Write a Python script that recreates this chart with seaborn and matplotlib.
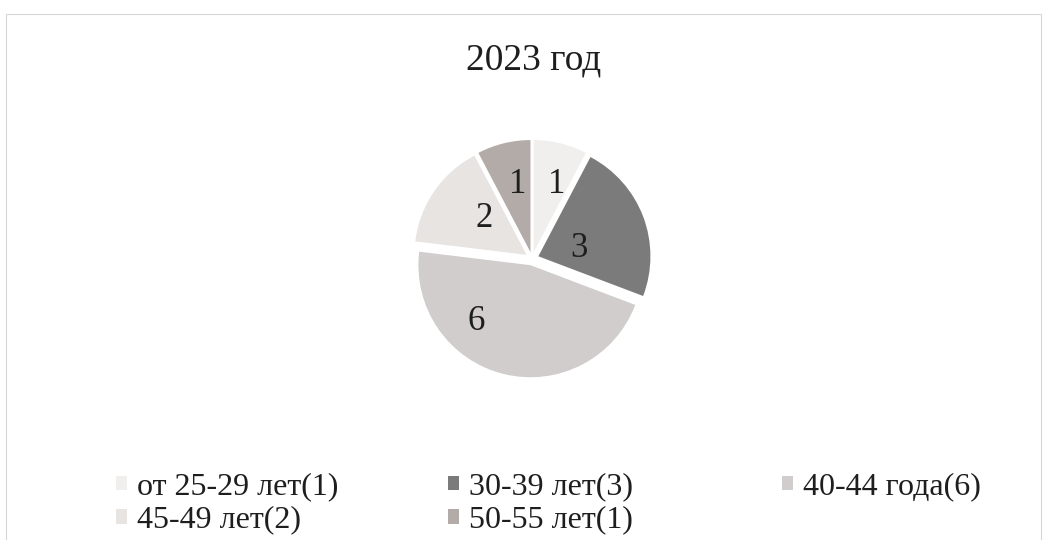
import matplotlib
matplotlib.use("Agg")
import numpy as np
import matplotlib.pyplot as plt
import matplotlib.patches as mpatches
import seaborn as sns

categories = ["от 25-29 лет(1)", "30-39 лет(3)", "40-44 года(6)", "45-49 лет(2)", "50-55 лет(1)"]
values = [1, 3, 6, 2, 1]
colors = ["#f1efed", "#7c7b7b", "#d0cdcc", "#e7e4e1", "#b3aba7"]
title = "2023 год"

# label placement inside each wedge (fraction along the arc, fraction of radius) - "best fit" style
label_arc_frac = [0.69, 0.62, 0.68, 0.60, 0.62]
label_rad_frac = [0.64, 0.37, 0.70, 0.50, 0.61]

sns.set_theme(style="white")
plt.rcParams['font.family'] = ['Liberation Serif', 'DejaVu Serif']

fig = plt.figure(figsize=(10.47, 5.4), dpi=100)
fig.patch.set_facecolor("white")

ax = fig.add_axes([0.3797, 0.272, 0.257, 0.498])
explode = [0.06] * len(values)
wedges, _ = ax.pie(
    values, colors=colors, startangle=90, counterclock=False,
    explode=explode, radius=1.0,
    wedgeprops=dict(edgecolor="none"))

for w, v, fa, fr in zip(wedges, values, label_arc_frac, label_rad_frac):
    t1, t2 = w.theta1, w.theta2
    ang = np.deg2rad(t2 - fa * (t2 - t1))
    cx, cy = w.center
    r = fr * w.r
    ax.text(cx + r * np.cos(ang), cy + r * np.sin(ang), str(v),
            ha="center", va="center", fontsize=25, color="#1e1e1e")

ax.set_xlim(-1.2, 1.2)
ax.set_ylim(-1.2, 1.2)
ax.set_aspect("equal")
ax.axis("off")

fig.text(0.510, 0.889, title, ha="center", va="center", fontsize=27, color="#1e1e1e")

# legend laid out row-wise in three columns, like the original (Excel-style grid)
handles = [mpatches.Patch(facecolor=c, edgecolor="none", label=l) for c, l in zip(colors, categories)]
columns = [[0, 3], [1, 4], [2]]
col_x = [116 / 1047, 448 / 1047, 782 / 1047]
for idxs, x in zip(columns, col_x):
    leg = fig.legend([handles[i] for i in idxs], [categories[i] for i in idxs],
                     loc="upper left", bbox_to_anchor=(x, 0.125), frameon=False,
                     fontsize=23, handlelength=0.33, handleheight=0.33, handletextpad=0.34,
                     labelspacing=0.13, borderaxespad=0, borderpad=0)
    for t in leg.get_texts():
        t.set_color("#1e1e1e")

fig.add_artist(mpatches.Rectangle((0.006, -0.01), 0.988, 0.985, transform=fig.transFigure,
                                  fill=False, edgecolor="#d6d6d6", lw=0.8))

fig.savefig("out.png", dpi=100)
